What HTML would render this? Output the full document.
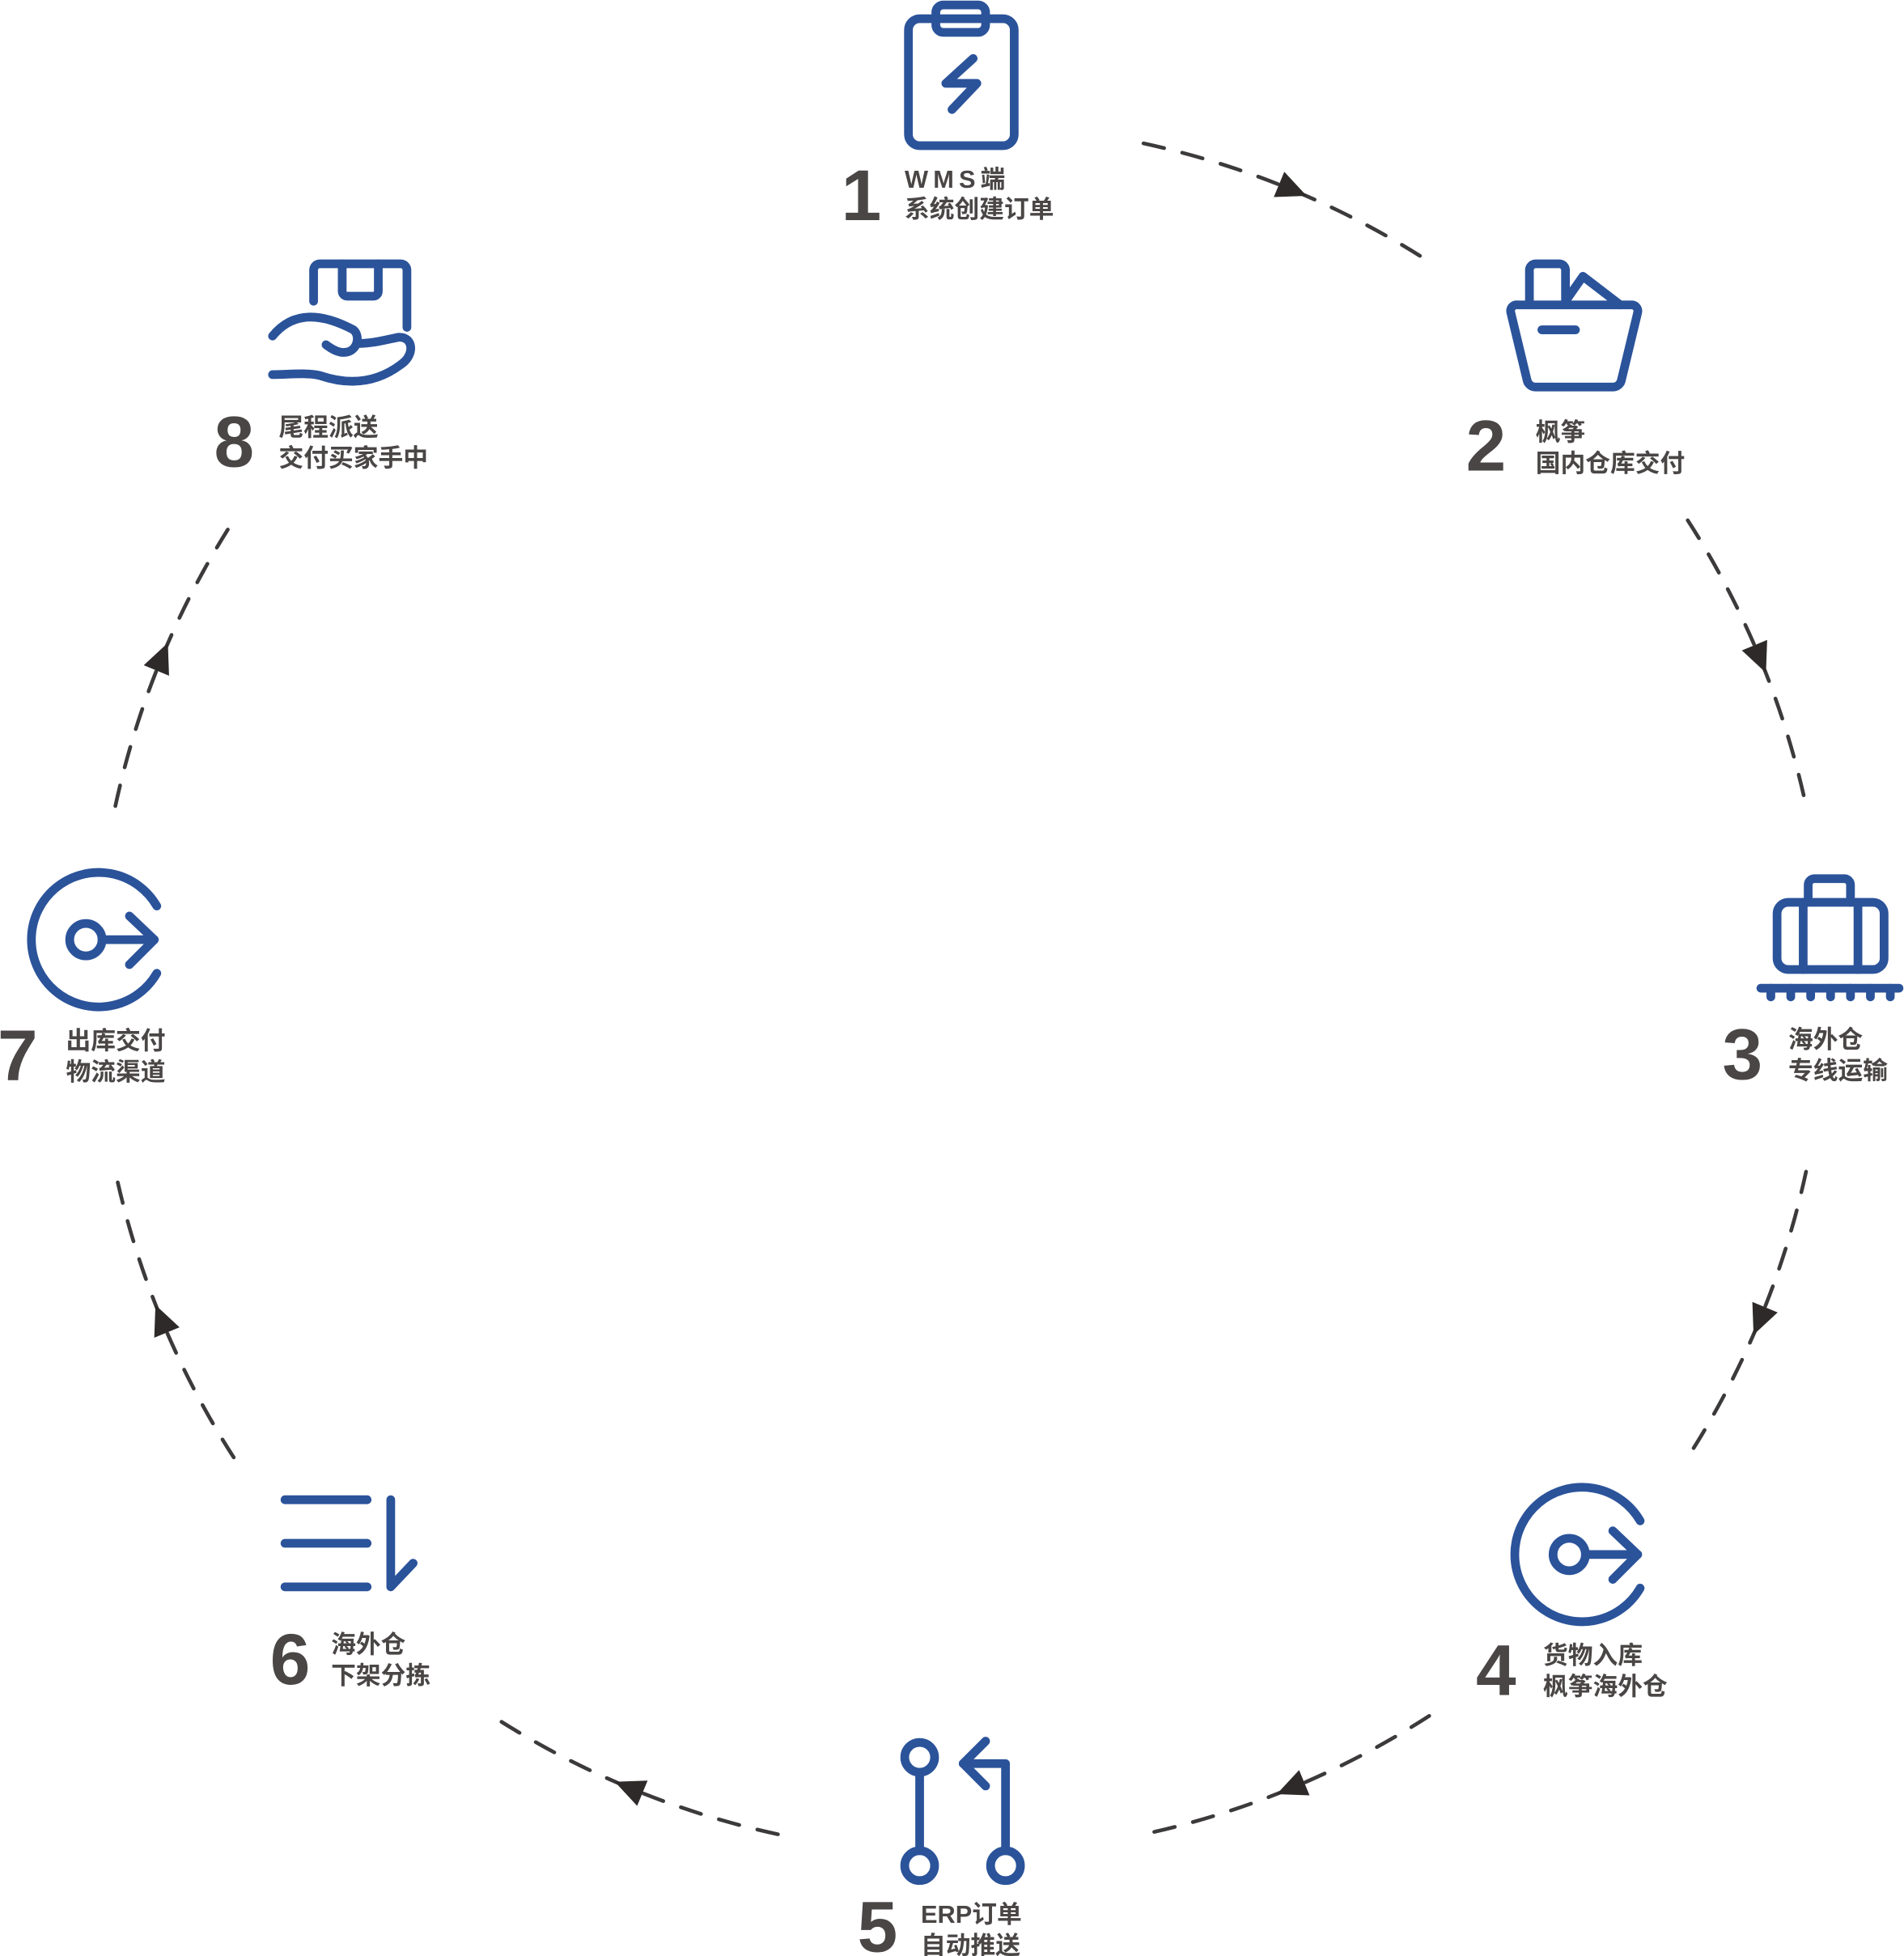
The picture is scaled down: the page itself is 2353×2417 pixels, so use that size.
<!DOCTYPE html>
<html><head><meta charset="utf-8"><style>
html,body{margin:0;padding:0;background:#fff;}
svg{display:block;}
.n{font-family:"Liberation Sans",sans-serif;font-weight:bold;font-size:58px;fill:#4a4646;}
.t{font-family:"Liberation Sans","Noto Sans CJK SC",sans-serif;font-weight:bold;font-size:20px;fill:#4a4646;}
.ic{fill:none;stroke:#2b539a;stroke-width:7;stroke-linecap:round;stroke-linejoin:round;}
</style></head><body>
<svg width="2353" height="2417" viewBox="0 0 1530 1571.6" xmlns="http://www.w3.org/2000/svg">
<g id="arcs" fill="none" stroke="#3c3a3a" stroke-width="3" stroke-linecap="round" stroke-dasharray="17 15">
</g>
<script>
(function(){
var cx=772,cy=794.5,R=695,g=document.getElementById('arcs'),ns="http://www.w3.org/2000/svg";
for(var k=0;k<7;k++){
 var c=-67.5+45*k,a0=(c-10.3)*Math.PI/180,a1=(c+10.3)*Math.PI/180;
 var p=document.createElementNS(ns,'path');
 p.setAttribute('d','M'+(cx+R*Math.cos(a0))+','+(cy+R*Math.sin(a0))+' A'+R+','+R+' 0 0 1 '+(cx+R*Math.cos(a1))+','+(cy+R*Math.sin(a1)));
 g.appendChild(p);
 var t=document.createElementNS(ns,'polygon');
 t.setAttribute('points',(cx+R)+','+(cy+13)+' '+(cx+R-11)+','+(cy-11)+' '+(cx+R+11)+','+(cy-11));
 t.setAttribute('fill','#2e2a2a');t.setAttribute('stroke','none');
 t.setAttribute('transform','rotate('+c+' '+cx+' '+cy+')');
 g.parentNode.appendChild(t);
}
})();
</script>

<!-- 1 clipboard -->
<rect class="ic" x="730" y="15" width="85" height="102" rx="9"/>
<rect class="ic" x="752" y="4" width="40" height="22" rx="6" fill="#fff"/>
<polyline class="ic" points="782,47 760,67 785,67 765,88"/>
<text class="n" x="676" y="177">1</text>
<text class="t" x="727" y="151" letter-spacing="4">WMS端</text>
<text class="t" x="727" y="175">系统创建订单</text>

<!-- 2 basket -->
<path class="ic" d="M1229,245 V217 a5,5 0 0 1 5,-5 H1253 a5,5 0 0 1 5,5 V245"/>
<path class="ic" d="M1258,242 L1272,222 L1302,245"/>
<path class="ic" d="M1220,245 H1312 a5,5 0 0 1 4,6 L1303,305 a7,7 0 0 1 -7,6 H1234 a7,7 0 0 1 -7,-6 L1214,251 a5,5 0 0 1 6,-6 Z"/>
<line class="ic" x1="1239" y1="265" x2="1266" y2="265"/>
<text class="n" x="1178" y="378">2</text>
<text class="t" x="1234" y="354">枫筝</text>
<text class="t" x="1234" y="379">国内仓库交付</text>

<!-- 3 suitcase -->
<rect class="ic" x="1428" y="725" width="86" height="54" rx="9"/>
<line class="ic" x1="1449" y1="725" x2="1449" y2="779"/>
<line class="ic" x1="1493" y1="725" x2="1493" y2="779"/>
<path class="ic" d="M1453,725 V711 a5,5 0 0 1 5,-5 H1482 a5,5 0 0 1 5,5 V725"/>
<line class="ic" x1="1415" y1="794" x2="1526" y2="794"/>
<g class="ic"><line x1="1423" y1="794" x2="1423" y2="801"/><line x1="1439" y1="794" x2="1439" y2="801"/><line x1="1455" y1="794" x2="1455" y2="801"/><line x1="1471" y1="794" x2="1471" y2="801"/><line x1="1487" y1="794" x2="1487" y2="801"/><line x1="1503" y1="794" x2="1503" y2="801"/><line x1="1519" y1="794" x2="1519" y2="801"/></g>
<text class="n" x="1384" y="867">3</text>
<text class="t" x="1437" y="842">海外仓</text>
<text class="t" x="1437" y="867">专线运输</text>

<!-- 4 exit icon -->
<g transform="translate(1271,1249)">
<path class="ic" d="M47,-27 A54,54 0 1 0 47,27"/>
<circle class="ic" cx="-10" cy="0" r="13"/>
<line class="ic" x1="3" y1="0" x2="45" y2="0"/>
<polyline class="ic" points="25,-19 45,0 25,20"/>
</g>
<text class="n" x="1186" y="1362">4</text>
<text class="t" x="1240" y="1337">货物入库</text>
<text class="t" x="1240" y="1362">枫筝海外仓</text>

<!-- 5 pull request -->
<circle class="ic" cx="739" cy="1412" r="12"/>
<circle class="ic" cx="739" cy="1499" r="12"/>
<circle class="ic" cx="808" cy="1499" r="12"/>
<line class="ic" x1="739" y1="1424" x2="739" y2="1487"/>
<polyline class="ic" points="808,1487 808,1417 774,1417"/>
<polyline class="ic" points="792,1399 774,1417 792,1435"/>
<text class="n" x="689" y="1568">5</text>
<text class="t" x="740" y="1545">ERP订单</text>
<text class="t" x="740" y="1570">自动推送</text>

<!-- 6 sort -->
<g class="ic">
<line x1="229" y1="1205" x2="295" y2="1205"/>
<line x1="229" y1="1240" x2="295" y2="1240"/>
<line x1="229" y1="1275" x2="295" y2="1275"/>
<polyline points="314,1205 314,1275 332,1256"/>
</g>
<text class="n" x="217" y="1353">6</text>
<text class="t" x="266" y="1328">海外仓</text>
<text class="t" x="266" y="1353">下架分拣</text>

<!-- 7 exit icon -->
<g transform="translate(79,755)">
<path class="ic" d="M47,-27 A54,54 0 1 0 47,27"/>
<circle class="ic" cx="-10" cy="0" r="13"/>
<line class="ic" x1="3" y1="0" x2="45" y2="0"/>
<polyline class="ic" points="25,-19 45,0 25,20"/>
</g>
<text class="n" x="-2" y="868">7</text>
<text class="t" x="53" y="843">出库交付</text>
<text class="t" x="53" y="868">物流渠道</text>

<!-- 8 hand with box -->
<path class="ic" d="M252,242 V217 a5,5 0 0 1 5,-5 H322 a5,5 0 0 1 5,5 V263"/>
<path class="ic" d="M275,212 V234 a4,4 0 0 0 4,4 H300 a4,4 0 0 0 4,-4 V212"/>
<path class="ic" d="M219,270 C232,254 252,248 284,265 C290,270 287,282 278,283 C272,284 266,280 262,277"/>
<path class="ic" d="M287,276 C300,276 310,273 320,271 C332,270 334,285 322,293 C306,305 285,311 258,302 C248,299 232,301 219,301"/>
<text class="n" x="172" y="375">8</text>
<text class="t" x="224" y="350">尾程派送</text>
<text class="t" x="224" y="375">交付买家手中</text>
</svg>
</body></html>
